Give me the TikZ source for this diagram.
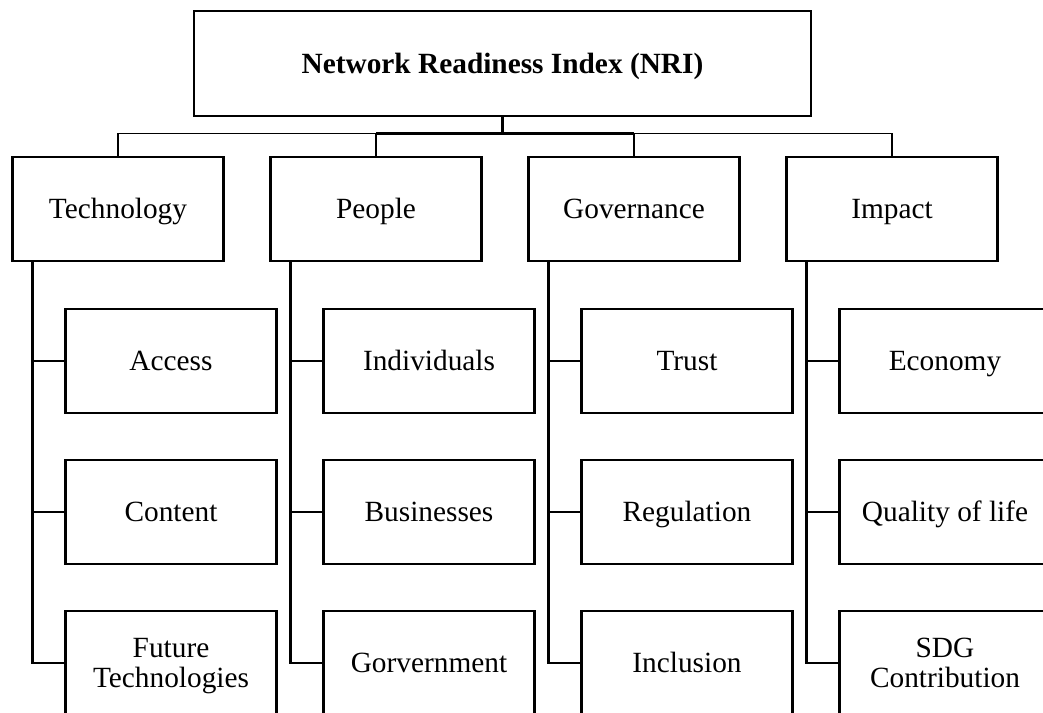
\documentclass[tikz,border=0pt]{standalone}
\usepackage{fontspec}
\setmainfont{Liberation Serif}
\begin{document}
\begin{tikzpicture}[x=0.75pt,y=-0.75pt,
  box/.style={draw=black,line width=1.65pt,minimum width=158.25pt,minimum height=78.4pt,
    inner sep=0pt,align=center,font=\fontsize{22pt}{22.5pt}\selectfont},
  one/.style={box,text height=14.5pt,text depth=0pt},
  two/.style={box,text depth=0pt},
  titlebox/.style={box,minimum width=462.75pt,minimum height=78.75pt,
    text height=14.5pt,text depth=0pt,font=\fontsize{22pt}{22.5pt}\selectfont\bfseries},
  thickline/.style={line width=1.65pt},
  midline/.style={line width=1.3pt},
  thinline/.style={line width=1pt},
  trunk/.style={line width=1.65pt}]
\useasboundingbox (0,0) rectangle (1043,713);
\clip (0,0) rectangle (1043,713);

% top of the hierarchy
\node[titlebox] (nri) at (502.5,63.5) {Network Readiness Index (NRI)};

% four pillars
\node[one] (tech)   at (118,209) {Technology};
\node[one] (people) at (376,209) {People};
\node[one] (gov)    at (634,209) {Governance};
\node[one] (impact) at (892,209) {Impact};

% sub-pillars
\node[one] (acc)  at (171,361) {Access};
\node[one] (cont) at (171,512) {Content};
\node[two] (fut)  at (171,663) {Future\\Technologies};

\node[one] (ind)  at (429,361) {Individuals};
\node[one] (bus)  at (429,512) {Businesses};
\node[one] (gvt)  at (429,663) {Gorvernment};

\node[one] (tru)  at (687,361) {Trust};
\node[one] (reg)  at (687,512) {Regulation};
\node[one] (inc)  at (687,663) {Inclusion};

\node[one] (eco)  at (945,361) {Economy};
\node[one] (qol)  at (945,512) {Quality of life};
\node[two] (sdg)  at (945,663) {SDG\\Contribution};

% connectors from the index to the pillars
\coordinate (bar) at (0,133.5);
\draw[thickline] (nri.south) -- (nri.south |- bar);
\draw[thickline] (people.north |- bar) -- (gov.north |- bar);
\draw[midline] (people.north |- bar) -- (people.north);
\draw[midline] (gov.north |- bar) -- (gov.north);
\draw[thinline] (tech.north) |- (people.north |- bar);
\draw[thinline] (impact.north) |- (gov.north |- bar);

% trunks from each pillar to its sub-pillars
\foreach \p/\a/\b/\c in {tech/acc/cont/fut, people/ind/bus/gvt, gov/tru/reg/inc, impact/eco/qol/sdg}{
  \coordinate (\p-t) at ([xshift=15.75pt]\p.south west);
  \draw[trunk] (\p-t) |- (\c.west);
  \draw[trunk] (\a.west) -- (\a.west -| \p-t);
  \draw[trunk] (\b.west) -- (\b.west -| \p-t);
}
\end{tikzpicture}
\end{document}
